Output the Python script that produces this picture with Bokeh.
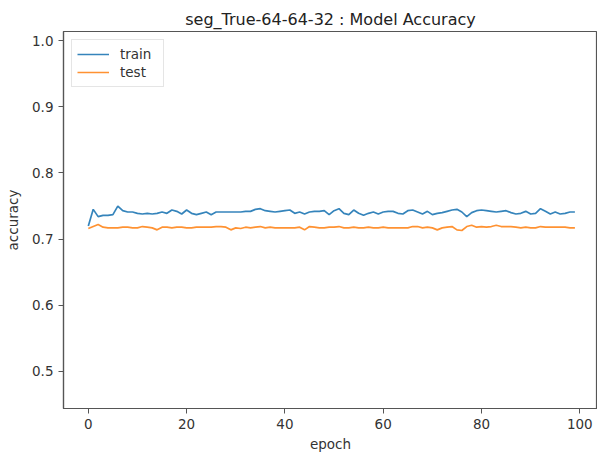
from bokeh.plotting import figure
from bokeh.models import Range1d, Legend, LegendItem, FixedTicker
from bokeh.embed import file_html
from bokeh.resources import INLINE

epochs = list(range(100))

train_acc = [
    0.720, 0.745, 0.734, 0.736, 0.736, 0.737, 0.750, 0.743, 0.741, 0.741,
    0.739, 0.738, 0.739, 0.738, 0.739, 0.741, 0.739, 0.744, 0.742, 0.738,
    0.744, 0.739, 0.737, 0.739, 0.741, 0.737, 0.741, 0.741, 0.741, 0.741,
    0.741, 0.741, 0.742, 0.742, 0.745, 0.746, 0.743, 0.742, 0.741, 0.742,
    0.743, 0.744, 0.739, 0.741, 0.738, 0.741, 0.742, 0.742, 0.743, 0.737,
    0.743, 0.746, 0.739, 0.737, 0.744, 0.739, 0.736, 0.739, 0.741, 0.738,
    0.741, 0.742, 0.742, 0.739, 0.738, 0.743, 0.744, 0.741, 0.738, 0.742,
    0.737, 0.739, 0.740, 0.742, 0.744, 0.745, 0.741, 0.734, 0.740, 0.743,
    0.744, 0.743, 0.742, 0.741, 0.742, 0.743, 0.740, 0.738, 0.739, 0.742,
    0.738, 0.739, 0.746, 0.742, 0.738, 0.741, 0.738, 0.739, 0.741, 0.741,
]

test_acc = [
    0.716, 0.719, 0.722, 0.718, 0.717, 0.717, 0.717, 0.718, 0.718, 0.717,
    0.717, 0.719, 0.718, 0.717, 0.714, 0.718, 0.718, 0.717, 0.718, 0.718,
    0.717, 0.717, 0.718, 0.718, 0.718, 0.718, 0.719, 0.719, 0.718, 0.714,
    0.717, 0.716, 0.718, 0.717, 0.718, 0.719, 0.717, 0.718, 0.717, 0.717,
    0.717, 0.717, 0.717, 0.718, 0.714, 0.719, 0.718, 0.717, 0.717, 0.718,
    0.718, 0.719, 0.717, 0.717, 0.718, 0.717, 0.717, 0.718, 0.717, 0.717,
    0.718, 0.717, 0.717, 0.717, 0.717, 0.717, 0.719, 0.719, 0.717, 0.718,
    0.717, 0.714, 0.717, 0.718, 0.719, 0.714, 0.713, 0.719, 0.721, 0.718,
    0.719, 0.718, 0.719, 0.721, 0.719, 0.719, 0.719, 0.718, 0.717, 0.718,
    0.717, 0.717, 0.719, 0.718, 0.718, 0.718, 0.718, 0.718, 0.717, 0.717,
]

x_ticks = [0, 20, 40, 60, 80, 100]
y_ticks = [0.5, 0.6, 0.7, 0.8, 0.9, 1.0]
y_tick_labels = {0.5: "0.5", 0.6: "0.6", 0.7: "0.7", 0.8: "0.8", 0.9: "0.9", 1.0: "1.0"}

title_text = "seg_True-64-64-32 : Model Accuracy"
FONT = "DejaVu Sans"

p = figure(
    width=597, height=454,
    output_backend="svg", toolbar_location=None,
    x_range=Range1d(-5.05, 103.6), y_range=Range1d(0.4438, 1.014),
    min_border_left=63, min_border_right=0, min_border_top=31, min_border_bottom=45,
    title=title_text,
)
p.title.text_font = FONT
p.title.text_font_size = "16px"
p.title.text_font_style = "normal"
p.title.text_color = "#222222"
p.title.align = "center"
p.title.standoff = 6

# frame outline provides the top spine (right edge falls on the window edge)
p.outline_line_color = "#555555"
p.outline_line_width = 1.2
p.background_fill_color = "white"
p.border_fill_color = "white"
p.grid.visible = False

x_axis = p.below[0]
y_axis = p.left[0]

for ax in (x_axis, y_axis):
    ax.axis_line_color = "#555555"
    ax.axis_line_width = 1.2
    ax.major_tick_line_color = "#555555"
    ax.major_tick_out = 5
    ax.major_tick_in = 0
    ax.minor_tick_line_color = None
    ax.major_label_text_font = FONT
    ax.major_label_text_font_size = "13.5px"
    ax.major_label_text_color = "#333333"
    ax.axis_label_text_font = FONT
    ax.axis_label_text_font_size = "13.5px"
    ax.axis_label_text_font_style = "normal"
    ax.axis_label_text_color = "#333333"

x_axis.ticker = FixedTicker(ticks=x_ticks)
y_axis.ticker = FixedTicker(ticks=y_ticks)
y_axis.major_label_overrides = y_tick_labels
x_axis.axis_label = "epoch"
y_axis.axis_label = "accuracy"
x_axis.major_label_standoff = 5
y_axis.major_label_standoff = 5
x_axis.axis_label_standoff = 4
y_axis.axis_label_standoff = 8

r_train = p.line(epochs, train_acc, line_color="#1f77b4", line_width=1.7, line_alpha=0.9)
r_test = p.line(epochs, test_acc, line_color="#ff7f0e", line_width=1.7, line_alpha=0.85)

legend = Legend(
    items=[LegendItem(label="train", renderers=[r_train]),
           LegendItem(label="test", renderers=[r_test])],
    location="top_left",
)
legend.margin = 8
legend.padding = 5
legend.spacing = 0
legend.glyph_width = 32
legend.glyph_height = 18
legend.label_height = 18
legend.label_width = 38
legend.label_standoff = 11
legend.label_text_font = FONT
legend.label_text_font_size = "13.5px"
legend.label_text_color = "#333333"
legend.border_line_color = "#cccccc"
legend.border_line_width = 1
legend.background_fill_alpha = 0.8
p.add_layout(legend)

open("out.html", "w").write(file_html(p, INLINE))
